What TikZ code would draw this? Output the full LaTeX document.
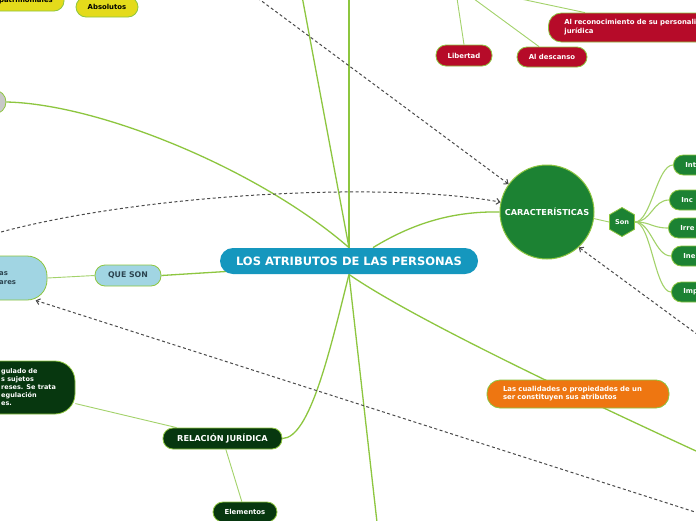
\documentclass[tikz,border=0pt]{standalone}
\usepackage{fontspec}
\setmainfont{DejaVu Sans}
\usetikzlibrary{arrows.meta,shapes.geometric,backgrounds}

\definecolor{branch}{HTML}{8DC63F}
\definecolor{twig}{HTML}{A3D26A}
\definecolor{titlefill}{HTML}{1597BE}
\definecolor{skyfill}{HTML}{A1D5E3}
\definecolor{skytext}{HTML}{2C4450}
\definecolor{greyfill}{HTML}{C8C8C8}
\definecolor{yellowfill}{HTML}{E4DB1B}
\definecolor{redfill}{HTML}{B60B29}
\definecolor{greenfill}{HTML}{1C8233}
\definecolor{darkfill}{HTML}{07370F}
\definecolor{orangefill}{HTML}{EE7611}
\definecolor{linkgrey}{HTML}{4A4A4A}

\begin{document}
\begin{tikzpicture}[x=1pt, y=-1pt, >={Straight Barb[length=3.5pt,width=6pt]},
    topic/.style={draw=branch, line width=0.8pt, inner sep=0pt, minimum height=20pt,
      rounded corners=10pt, text=white, font=\bfseries\fontsize{6.9}{9}\selectfont},
    trait/.style={topic, fill=greenfill, anchor=west, text width=36pt,
      inner xsep=12pt, align=left},
    mainline/.style={draw=branch, line width=1.3pt},
    twigline/.style={draw=twig, line width=0.9pt},
    relation/.style={draw=linkgrey, line width=1pt, dash pattern=on 3pt off 2.5pt}]
  \useasboundingbox (0,0) rectangle (696,520);

  % central topic
  \node[topic, fill=titlefill, draw=none, minimum width=258pt, minimum height=26pt,
    rounded corners=13pt, font=\bfseries\fontsize{11.5}{14}\selectfont]
    (atributos) at (349,261) {LOS ATRIBUTOS DE LAS PERSONAS};

  % left side
  \node[topic, fill=skyfill, text=skytext, minimum width=66pt, minimum height=21pt,
    font=\bfseries\fontsize{7.8}{9}\selectfont] (queson) at (128,275.5) {QUE SON};
  \node[topic, fill=skyfill, minimum width=107pt, minimum height=44pt,
    rounded corners=20pt] (definicion) at (-6.5,278) {};
  \node[anchor=west, align=left, inner sep=0pt, text=skytext,
    font=\bfseries\fontsize{6.9}{9}\selectfont] (definiciontxt) at (-1,278.5) {as\\ares};
  \node[circle, draw=branch, line width=0.8pt, fill=greyfill, minimum size=24pt,
    inner sep=0pt] (gris) at (-6,102) {};
  \node[topic, fill=yellowfill, minimum width=104pt, minimum height=26pt]
    (patrimoniales) at (12,-2) {};
  \node[anchor=east, inner sep=0pt, text=black,
    font=\bfseries\fontsize{6.9}{9}\selectfont] (patrimonialestxt) at (53,1) {patrimoniales};
  \node[topic, fill=yellowfill, text=black, minimum width=62pt] (absolutos) at (107,7) {Absolutos};
  \node[topic, fill=darkfill, minimum width=135pt, minimum height=53pt,
    rounded corners=20pt] (vinculo) at (7.5,387.5) {};
  \node[anchor=west, align=left, inner sep=0pt, text=white,
    font=\bfseries\fontsize{6.5}{8}\selectfont] (vinculotxt) at (1,387)
    {gulado de\\s sujetos\\reses. Se trata\\egulación\\es.};
  \node[topic, fill=darkfill, minimum width=119pt, minimum height=21pt,
    font=\bfseries\fontsize{8.2}{10}\selectfont] (relacion) at (222.5,438.5) {RELACIÓN JURÍDICA};
  \node[topic, fill=darkfill, minimum width=64pt] (elementos) at (245,512) {Elementos};

  % top right
  \node[topic, fill=redfill, minimum width=56pt, minimum height=21pt] (libertad) at (464,55.5) {Libertad};
  \node[topic, fill=redfill, minimum width=70pt] (descanso) at (552,57) {Al descanso};
  \node[topic, fill=redfill, anchor=west, minimum height=29pt, rounded corners=13pt,
    text width=184pt, inner xsep=16pt, align=left] (personalidad) at (548,27.5)
    {Al reconocimiento de su personali\\jurídica};

  % right side
  \node[circle, draw=branch, line width=1pt, fill=greenfill, minimum size=94pt,
    inner sep=0pt, text=white, font=\bfseries\fontsize{8.2}{10}\selectfont]
    (caracteristicas) at (547,212) {CARACTERÍSTICAS};
  \node[regular polygon, regular polygon sides=6, shape border rotate=30, draw=branch,
    line width=0.8pt, fill=greenfill, minimum size=29pt, inner sep=0pt, text=white,
    font=\bfseries\fontsize{6.6}{8}\selectfont] (son) at (622,222) {Son};
  \foreach \name/\txt/\x/\y in {int/Int/673/165, inc/Inc/669/200, irre/Irre/668/228,
      ine/Ine/671/256, imp/Imp/671/292}
    \node[trait] (\name) at (\x,\y) {\txt};
  \node[topic, fill=orangefill, minimum width=182pt, minimum height=28pt,
    rounded corners=13pt, text width=150pt, inner xsep=16pt, align=left,
    font=\bfseries\fontsize{6.9}{8}\selectfont] (cualidades) at (578,394)
    {Las cualidades o propiedades de un\\ser constituyen sus atributos};

  % branches leaving the picture
  \coordinate (ramaA) at (299,-20);
  \coordinate (ramaB) at (349,-20);
  \coordinate (ramaC) at (379,540);
  \coordinate (ramaD) at (720,462);
  \coordinate (derechos) at (455,-15);
  \coordinate (notaA) at (240,-15);
  \coordinate (notaB) at (-20,238);
  \coordinate (notaC) at (720,351);
  \coordinate (notaD) at (720,520);

  \begin{pgfonlayer}{background}
    \fill[white] (0,0) rectangle (696,520);
    \draw[mainline] (atributos.north) -- (ramaA);
    \draw[mainline] (atributos.north) -- (ramaB);
    \draw[mainline] (atributos.south) -- (ramaC);
    \draw[mainline] (atributos.south) .. controls (400,310) and (530,375) .. (ramaD);
    \draw[mainline] (gris.east) .. controls (100,104) and (260,170) .. (atributos.north);
    \draw[mainline] ([xshift=24pt]atributos.north) .. controls (410,225) and (450,211)
      .. (caracteristicas.west);
    \draw[mainline] ([xshift=8pt,yshift=3pt]atributos.south west) -- (queson.east);
    \draw[mainline] (atributos.south) .. controls (330,350) and (310,438) .. (relacion.east);
    \draw[twigline] (queson.west) -- (definicion.east);
    \draw[twigline] (relacion) -- (vinculo);
    \draw[twigline] (relacion) -- (elementos);
    \draw[twigline] (derechos) -- (libertad.north);
    \draw[twigline] (derechos) -- ([xshift=-13pt]descanso.north);
    \draw[twigline] (derechos) -- ([xshift=37pt]personalidad.north west);
    \draw[twigline] (caracteristicas.-8) -- (son.west);
    \foreach \name in {int,inc,irre,ine,imp}
      \draw[twigline, line width=1.1pt] (son.east) .. controls +(16,0) and +(-16,0) .. (\name.west);
  \end{pgfonlayer}

  % dashed relations
  \draw[relation, ->] (notaA) -- (caracteristicas.144);
  \draw[relation, ->] (notaB) .. controls (120,195) and (380,180) .. (caracteristicas.168);
  \draw[relation, ->] (notaC) -- (caracteristicas.-48);
  \draw[relation, ->] (notaD) -- (definicion.-28);
\end{tikzpicture}
\end{document}
